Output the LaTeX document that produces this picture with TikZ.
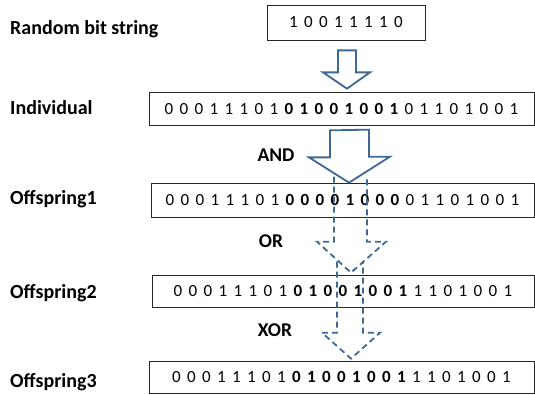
\documentclass[tikz,border=0pt]{standalone}
\usepackage{fontspec}
\setmainfont{Carlito}
\usepackage{xcolor}
\usepackage{tikz}
\usetikzlibrary{positioning, calc}

\definecolor{opblue}{RGB}{62,104,150}
\newcommand\bitstr[1]{\bitloop#1\relax}
\def\bitloop#1{\ifx#1\relax\else\makebox[15pt]{#1}\expandafter\bitloop\fi}

\begin{document}
\begin{tikzpicture}[
  x=1pt, y=-1pt,
  bitbox/.style={rectangle, draw=black!85, line width=0.7pt, inner sep=0pt,
                 align=center, font=\fontsize{17}{20}\selectfont},
  lbl/.style={anchor=west, inner sep=0pt, text height=0.65em, text depth=0.05em,
              font=\fontsize{20}{24}\selectfont\bfseries},
  oplbl/.style={inner sep=0pt, text height=0.65em, text depth=0.05em,
                font=\fontsize{19.5}{24}\selectfont\bfseries},
  hol/.style={draw=opblue, line width=1.8pt, line join=miter, fill=white},
  dsh/.style={draw=opblue, line width=1.8pt, dash pattern=on 6pt off 4pt}
]
\useasboundingbox (0,0) rectangle (535,394);
%% bit string boxes
\node[bitbox, minimum width=158pt, minimum height=35pt] (r_rand) at (346,22.5)
    {\bitstr{10011110}};
\node[bitbox, minimum width=385pt, minimum height=33pt] (r_ind)  at (341.5,108.5)
    {\bitstr{00011101}{\bfseries\bitstr{01001001}}\bitstr{01101001}};
\node[bitbox, minimum width=383pt, minimum height=34pt] (r_off1) at (342.5,200)
    {\bitstr{00011101}{\bfseries\bitstr{00001000}}\bitstr{01101001}};
\node[bitbox, minimum width=382pt, minimum height=32pt] (r_off2) at (343,291)
    {\bitstr{00011101}{\bfseries\bitstr{01001001}}\bitstr{1101001}};
\node[bitbox, minimum width=385pt, minimum height=32pt] (r_off3) at (341.5,377)
    {\bitstr{00011101}{\bfseries\bitstr{01001001}}\bitstr{1101001}};
%% row labels
\node[lbl] (l_rand) at (10,31)  {Random bit string};
\node[lbl] (l_ind)  at (10,111) {Individual};
\node[lbl] (l_off1) at (10,201) {Offspring1};
\node[lbl] (l_off2) at (10,295) {Offspring2};
\node[lbl] (l_off3) at (10,384) {Offspring3};
%% operator labels
\node[oplbl] (o_and) at (276,158) {AND};
\node[oplbl] (o_or)  at (271,244) {OR};
\node[oplbl] (o_xor) at (275,333) {XOR};
%% hollow arrows
\draw[hol] ($(r_rand.south)+(-8,10)$) -- ++(0,22) -- ++(-15,0)
    -- ($(r_ind.north)+(5.5,-3)$) -- ($(r_rand.south)+(24,32)$)
    -- ++(-14,0) -- ++(0,-22) -- cycle;
\draw[hol] ($(r_ind.south)+(-11.5,5)$) -- ++(0,27) -- ++(-21,0)
    -- ($(r_off1.north)+(6.5,0)$) -- ++(41,-26) -- ++(-21,0)
    -- ++(0,-27) -- cycle;
%% dashed arrows
\draw[dsh] ($(r_off1.north)+(-8.5,-6)$) -- ++(0,65) -- ++(-17,0)
    -- ($(r_off2.north)+(8,-2)$) -- ++(35,-31) -- ++(-19,0) -- ++(0,-65);
\draw[dsh] ($(r_off2.north)+(-6,-13)$) -- ++(0,71) -- ++(-15,0)
    -- ($(r_off3.north)+(9.5,-2)$) -- ++(29,-26) -- ++(-17,0) -- ++(0,-71);
\end{tikzpicture}
\end{document}
